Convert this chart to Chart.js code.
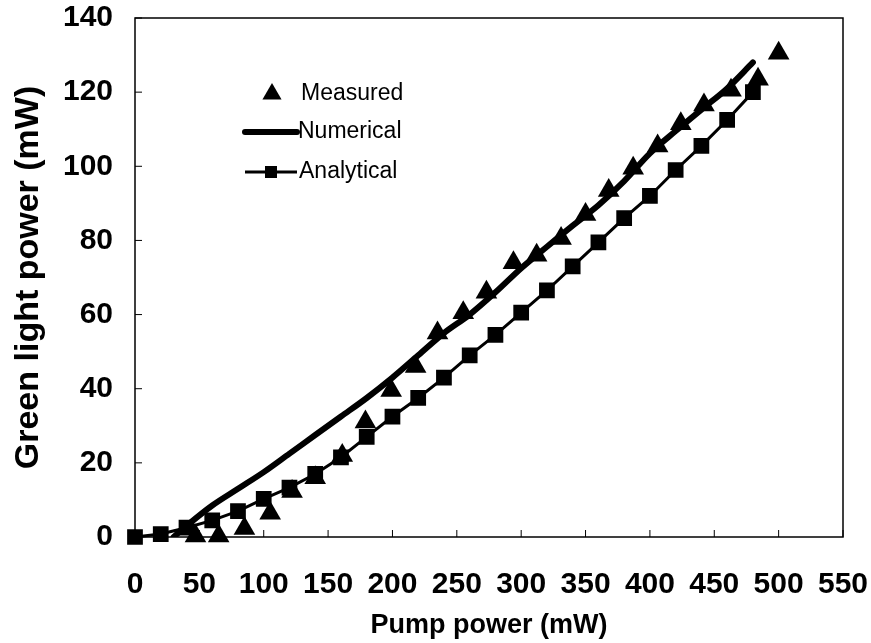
<!DOCTYPE html>
<html>
<head>
<meta charset="utf-8">
<script src="https://cdn.jsdelivr.net/npm/chart.js@4/dist/chart.umd.min.js"></script>
<style>
  html, body { margin: 0; padding: 0; background: #fff; }
  #wrap { width: 871px; height: 643px; }
</style>
</head>
<body>
<div id="wrap"><canvas id="chart"></canvas></div>
<script>
// values
const measuredX = [47, 65, 85, 105, 122, 140, 161, 179, 199, 218, 235, 255, 273, 294, 312, 331, 350, 368, 387, 406, 424, 442, 463, 484, 500];
const measuredY = [0.3, 0.3, 2.3, 6.4, 12.3, 16, 22, 31, 39.5, 46, 55, 60.5, 66, 74, 76, 80.5, 87, 93.5, 99.5, 105.5, 111.5, 116.5, 120.5, 123.5, 130.5];

const numericalX = [30, 40, 60, 80, 100, 120, 140, 160, 180, 200, 220, 240, 260, 280, 300, 320, 340, 360, 380, 400, 420, 440, 460, 480];
const numericalY = [0, 3, 8.5, 13, 17.5, 22.5, 27.5, 32.5, 37.5, 43, 49, 55, 60, 66, 72.5, 78.3, 84, 89.5, 96, 103.5, 109.5, 115.3, 121, 128];

const analyticalX = [0, 20, 40, 60, 80, 100, 120, 140, 160, 180, 200, 220, 240, 260, 280, 300, 320, 340, 360, 380, 400, 420, 440, 460, 480];
const analyticalY = [0, 0.8, 2.5, 4.5, 7, 10.3, 13.3, 17, 21.5, 27, 32.5, 37.5, 43, 49, 54.5, 60.5, 66.5, 73, 79.5, 86, 92, 99, 105.5, 112.5, 120];

const xTicks = [0, 50, 100, 150, 200, 250, 300, 350, 400, 450, 500, 550];
const yTicks = [0, 20, 40, 60, 80, 100, 120, 140];

const seriesNames = ["Measured", "Numerical", "Analytical"];

const sans = "'Liberation Sans', Arial, sans-serif";

const toPoints = (xs, ys) => xs.map((x, i) => ({ x: x, y: ys[i] }));

// frame, inward ticks and the in-plot legend
const framePlugin = {
  id: "frame",
  afterDraw(chart) {
    const ctx = chart.ctx;
    const a = chart.chartArea;
    const xs = chart.scales.x, ys = chart.scales.y;
    ctx.save();
    ctx.strokeStyle = "#000";
    ctx.lineWidth = 1.5;
    ctx.strokeRect(a.left, a.top, a.right - a.left, a.bottom - a.top);

    ctx.lineWidth = 1;
    ctx.beginPath();
    xTicks.forEach(v => {
      const px = xs.getPixelForValue(v);
      ctx.moveTo(px, a.bottom);
      ctx.lineTo(px, a.bottom - 7);
    });
    yTicks.forEach(v => {
      const py = ys.getPixelForValue(v);
      ctx.moveTo(a.left, py);
      ctx.lineTo(a.left + 7, py);
    });
    ctx.stroke();

    // legend
    const lx = a.left + 110;
    const tx = a.left + 163;
    const rows = [a.top + 76, a.top + 114, a.top + 154];
    ctx.fillStyle = "#000";

    // Measured: triangle
    const r = 11;
    const cx = lx + 27, cy = rows[0];
    ctx.beginPath();
    ctx.moveTo(cx, cy - r);
    ctx.lineTo(cx + r * 0.87, cy + r * 0.5);
    ctx.lineTo(cx - r * 0.87, cy + r * 0.5);
    ctx.closePath();
    ctx.fill();

    // Numerical: thick line
    ctx.lineCap = "round";
    ctx.lineWidth = 6;
    ctx.beginPath();
    ctx.moveTo(lx, rows[1]);
    ctx.lineTo(lx + 52, rows[1]);
    ctx.stroke();

    // Analytical: line with square
    ctx.lineCap = "butt";
    ctx.lineWidth = 3;
    ctx.beginPath();
    ctx.moveTo(lx, rows[2]);
    ctx.lineTo(lx + 52, rows[2]);
    ctx.stroke();
    ctx.fillRect(lx + 26 - 6, rows[2] - 6, 12, 12);

    ctx.font = "23px " + sans;
    ctx.textBaseline = "middle";
    ctx.textAlign = "left";
    ctx.fillText(seriesNames[0], tx + 3, rows[0]);
    ctx.fillText(seriesNames[1], tx, rows[1]);
    ctx.fillText(seriesNames[2], tx + 1, rows[2]);
    ctx.restore();
  }
};

new Chart(document.getElementById("chart"), {
  type: "scatter",
  data: {
    datasets: [
      {
        label: seriesNames[0],
        data: toPoints(measuredX, measuredY),
        pointStyle: "triangle",
        pointRadius: 12.5,
        backgroundColor: "#000",
        borderColor: "#000",
        borderWidth: 0,
        showLine: false,
        clip: false
      },
      {
        label: seriesNames[1],
        data: toPoints(numericalX, numericalY),
        showLine: true,
        pointRadius: 0,
        borderColor: "#000",
        borderWidth: 6,
        borderCapStyle: "round",
        borderJoinStyle: "round",
        cubicInterpolationMode: "monotone"
      },
      {
        label: seriesNames[2],
        data: toPoints(analyticalX, analyticalY),
        showLine: true,
        pointStyle: "rect",
        pointRadius: 9,
        backgroundColor: "#000",
        borderColor: "#000",
        borderWidth: 3,
        clip: false
      }
    ]
  },
  options: {
    responsive: true,
    maintainAspectRatio: false,
    animation: false,
    layout: { padding: { top: 18, right: 28, left: 0, bottom: 0 } },
    plugins: {
      legend: { display: false },
      tooltip: { enabled: false }
    },
    scales: {
      x: {
        type: "linear",
        min: 0,
        max: 550,
        afterBuildTicks: s => { s.ticks = xTicks.map(v => ({ value: v })); },
        afterFit: s => { s.height = 106; s.paddingLeft = 0; s.paddingRight = 0; },
        grid: { display: false, drawTicks: false },
        border: { display: false },
        ticks: {
          padding: 30,
          color: "#000",
          font: { family: sans, size: 30, weight: "bold" }
        },
        title: {
          display: true,
          text: "Pump power (mW)",
          color: "#000",
          padding: { top: 0, bottom: 1 },
          font: { family: sans, size: 27, weight: "bold" }
        }
      },
      y: {
        type: "linear",
        min: 0,
        max: 140,
        afterBuildTicks: s => { s.ticks = yTicks.map(v => ({ value: v })); },
        afterFit: s => { s.width = 135; s.paddingTop = 0; s.paddingBottom = 0; },
        grid: { display: false, drawTicks: false },
        border: { display: false },
        ticks: {
          padding: 22,
          color: "#000",
          font: { family: sans, size: 30, weight: "bold" }
        },
        title: {
          display: true,
          text: "Green light power (mW)",
          color: "#000",
          padding: { top: 8, bottom: 0 },
          font: { family: sans, size: 34, weight: "bold" }
        }
      }
    }
  },
  plugins: [framePlugin]
});
</script>
</body>
</html>
